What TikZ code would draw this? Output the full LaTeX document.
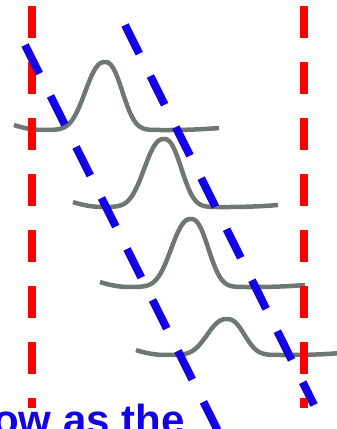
\documentclass[tikz,border=0pt]{standalone}
\usepackage{fontspec}
\setmainfont{Liberation Sans}
\usetikzlibrary{positioning}
\definecolor{lineblue}{RGB}{20,0,230}
\definecolor{pulsegray}{RGB}{110,120,112}

% one pulse: #1 centre x, #2 base y, #3 height
\newcommand{\drawpulse}[3]{%
  \draw[pulseline] plot[domain=#1-91:#1+114, samples=140]
    (\x, {#2 - #3*exp(-pow(min(abs(\x-#1)/(\x<#1 ? 25 : 22),3)+0.001,2.4))
          - 5*pow(max(0,1-(\x-#1+91)/30),2) - 2*pow(max(0,1-(#1+114-\x)/50),2)});
}

\begin{document}
\begin{tikzpicture}[
        x=1pt, y=-1pt,
        pulseline/.style={draw=pulsegray, line width=4.5pt, line join=round},
        redline/.style={draw=red, line width=8pt, dash pattern=on 32pt off 24pt},
        blueline/.style={draw=lineblue, line width=8pt, dash pattern=on 32pt off 25pt},
        bottomtext/.style={text=lineblue, inner sep=0pt, font=\bfseries\fontsize{42}{50}\selectfont}
    ]
        \useasboundingbox (0,0) rectangle (337,429);
        \clip (0,0) rectangle (337,429);

        % pulses
        \drawpulse{105}{130}{68}
        \drawpulse{164}{207}{68}
        \drawpulse{191}{287}{68}
        \drawpulse{227}{355}{36}

        % vertical markers
        \coordinate (L top) at (31.5,6);
        \coordinate (L bot) at (31.5,408);
        \coordinate (R top) at (303.5,6);
        \coordinate (R bot) at (303.5,408);
        \draw[redline] (L top) -- (L bot);
        \draw[redline] (R top) -- (R bot);

        % slanted markers
        \coordinate (A top) at (25,45);
        \coordinate (A bot) at (217.5,430);
        \coordinate (B top) at (125,25);
        \coordinate (B bot) at (314,405);
        \draw[blueline] (A top) -- (A bot);
        \draw[blueline] (B top) -- (B bot);

        \node[bottomtext, anchor=base west] (caption) at (-7,434) {ow as the};
    \end{tikzpicture}
\end{document}
